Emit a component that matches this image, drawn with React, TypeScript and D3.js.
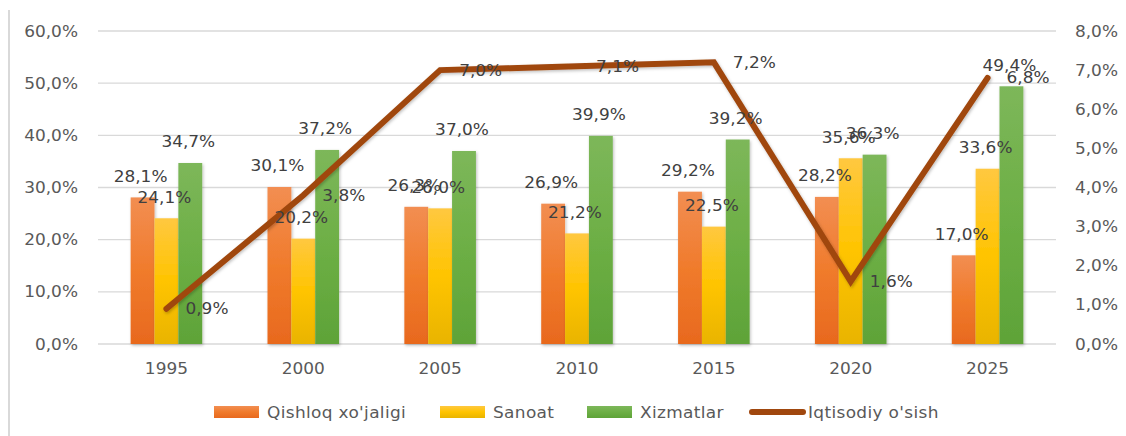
import React from "react";
import * as d3 from "d3";

const categories = ["1995", "2000", "2005", "2010", "2015", "2020", "2025"];
const agriculture = [28.1, 30.1, 26.3, 26.9, 29.2, 28.2, 17.0];
const industry = [24.1, 20.2, 26.0, 21.2, 22.5, 35.6, 33.6];
const services = [34.7, 37.2, 37.0, 39.9, 39.2, 36.3, 49.4];
const growth = [0.9, 3.8, 7.0, 7.1, 7.2, 1.6, 6.8];
const leftTicks = [0, 10, 20, 30, 40, 50, 60];
const rightTicks = [0, 1, 2, 3, 4, 5, 6, 7, 8];
const seriesNames = ["Qishloq xo'jaligi", "Sanoat", "Xizmatlar", "Iqtisodiy o'sish"];

const W = 1126;
const H = 436;
const plot = { left: 98, right: 1056, top: 31, bottom: 344 };
const FONT = "'DejaVu Sans', Verdana, sans-serif";
const TEXT = "#595959";
const SX = 1.13;
const FS = 15;
const fmt = (v: number) => v.toFixed(1).replace(".", ",") + "%";

function T({
  x,
  y,
  anchor = "start",
  fill = TEXT,
  children,
  spacing = 0,
}: {
  x: number;
  y: number;
  anchor?: string;
  fill?: string;
  children: React.ReactNode;
  spacing?: number;
}) {
  return (
    <g transform={`translate(${x},${y}) scale(${SX},1)`}>
      <text x={0} y={0} textAnchor={anchor as any} fontSize={FS} fill={fill} letterSpacing={spacing}>
        {children}
      </text>
    </g>
  );
}

export default function App() {
  const x0 = d3.scaleBand<string>().domain(categories).range([plot.left, plot.right]);
  const groupW = x0.bandwidth() * 0.523;
  const x1 = d3
    .scaleBand<number>()
    .domain([0, 1, 2])
    .range([(x0.bandwidth() - groupW) / 2, (x0.bandwidth() + groupW) / 2]);
  const yL = d3.scaleLinear().domain([0, 60]).range([plot.bottom, plot.top]);
  const yR = d3.scaleLinear().domain([0, 8]).range([plot.bottom, plot.top]);
  const cx = (c: string) => (x0(c) as number) + x0.bandwidth() / 2;

  const series = [agriculture, industry, services];
  const grads = ["gOrange", "gYellow", "gGreen"];

  const line = d3
    .line<number>()
    .x((_, i) => cx(categories[i]))
    .y((d) => yR(d));

  const legendItems = [
    { x: 214, type: "rect", fill: "url(#gOrange)", label: seriesNames[0] },
    { x: 440, type: "rect", fill: "url(#gYellow)", label: seriesNames[1] },
    { x: 587, type: "rect", fill: "url(#gGreen)", label: seriesNames[2] },
    { x: 752, type: "line", fill: "#A0470E", label: seriesNames[3] },
  ];

  return (
    <svg
      width={W}
      height={H}
      style={{ position: "absolute", left: 0, top: 0, background: "#fff" }}
      fontFamily={FONT}
    >
      <defs>
        <linearGradient id="gOrange" x1="0" y1="0" x2="0" y2="1">
          <stop offset="0" stopColor="#F28E52" />
          <stop offset="0.5" stopColor="#F07B2C" />
          <stop offset="1" stopColor="#E8691E" />
        </linearGradient>
        <linearGradient id="gYellow" x1="0" y1="0" x2="0" y2="1">
          <stop offset="0" stopColor="#FFC840" />
          <stop offset="0.5" stopColor="#FFC400" />
          <stop offset="1" stopColor="#E9B400" />
        </linearGradient>
        <linearGradient id="gGreen" x1="0" y1="0" x2="0" y2="1">
          <stop offset="0" stopColor="#7DB75A" />
          <stop offset="0.5" stopColor="#6DAF45" />
          <stop offset="1" stopColor="#5EA338" />
        </linearGradient>
        <filter id="shadow" x="-20%" y="-20%" width="140%" height="140%">
          <feDropShadow dx="1" dy="1.5" stdDeviation="1.5" floodColor="#000" floodOpacity="0.25" />
        </filter>
      </defs>

      {/* chart border (left edge) */}
      <line x1={9} x2={9} y1={10} y2={H} stroke="#D9D9D9" strokeWidth={2} />

      {/* gridlines */}
      {leftTicks.map((t) => (
        <line
          key={t}
          x1={plot.left}
          x2={plot.right}
          y1={yL(t)}
          y2={yL(t)}
          stroke="#D9D9D9"
          strokeWidth={1.3}
        />
      ))}

      {/* left axis labels */}
      {leftTicks.map((t) => (
        <T key={t} x={78} y={yL(t) + 5.5} anchor="end">
          {fmt(t)}
        </T>
      ))}

      {/* right axis labels */}
      {rightTicks.map((t) => (
        <T key={t} x={1118} y={yR(t) + 5.5} anchor="end">
          {fmt(t)}
        </T>
      ))}

      {/* category labels */}
      {categories.map((c) => (
        <T key={c} x={cx(c)} y={374} anchor="middle">
          {c}
        </T>
      ))}

      {/* bars */}
      {categories.map((c, i) => (
        <g key={c} transform={`translate(${x0(c)},0)`}>
          {series.map((s, k) => (
            <rect
              key={k}
              x={x1(k) as number}
              y={yL(s[i])}
              width={x1.bandwidth()}
              height={yL(0) - yL(s[i])}
              fill={`url(#${grads[k]})`}
              filter="url(#shadow)"
            />
          ))}
        </g>
      ))}

      {/* line */}
      <path
        d={line(growth) as string}
        fill="none"
        stroke="#A0470E"
        strokeWidth={6}
        strokeLinejoin="miter"
        strokeLinecap="round"
        filter="url(#shadow)"
      />

      {/* bar labels */}
      {categories.map((c, i) => (
        <g key={c}>
          {series.map((s, k) => (
            <T
              key={k}
              x={(x0(c) as number) + (x1(k) as number) + x1.bandwidth() / 2 - 2}
              y={yL(s[i]) - 15.5}
              anchor="middle"
              fill="#404040"
            >
              {fmt(s[i])}
            </T>
          ))}
        </g>
      ))}

      {/* line labels */}
      {growth.map((g, i) => (
        <T key={i} x={cx(categories[i]) + 19} y={yR(g) + 5.5} fill="#404040">
          {fmt(g)}
        </T>
      ))}

      {/* legend */}
      {legendItems.map((it, i) => (
        <g key={i}>
          {it.type === "rect" ? (
            <rect x={it.x} y={406} width={45} height={12} fill={it.fill} />
          ) : (
            <line
              x1={it.x}
              x2={it.x + 51}
              y1={412}
              y2={412}
              stroke={it.fill}
              strokeWidth={6}
              strokeLinecap="round"
            />
          )}
          <T x={it.x + (it.type === "rect" ? 53 : 56)} y={417.5} spacing={0.3}>
            {it.label}
          </T>
        </g>
      ))}
    </svg>
  );
}
